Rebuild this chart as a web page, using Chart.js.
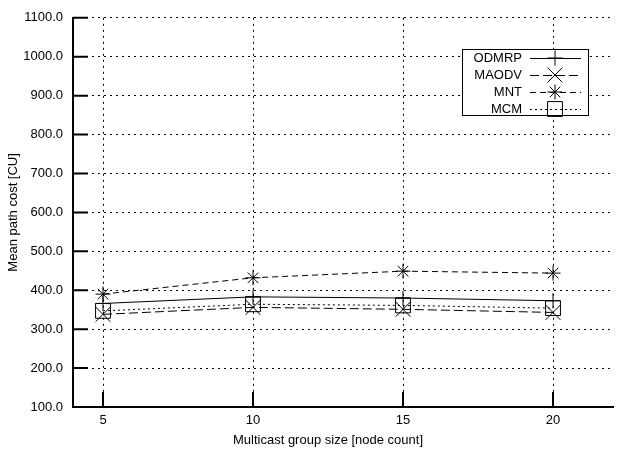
<!DOCTYPE html>
<html>
<head>
<meta charset="utf-8">
<script src="https://cdn.jsdelivr.net/npm/chart.js@4"></script>
<style>
  html, body { margin: 0; padding: 0; background: #fff; }
  #wrap { width: 618px; height: 455px; }
</style>
</head>
<body>
<div id="wrap"><canvas id="costChart" width="618" height="455"></canvas></div>
<script>
// group sizes on the x axis
const groupSizes = [5, 10, 15, 20];
// mean path cost per protocol
const odmrp = [366, 383, 380, 373];
const maodv = [338, 356, 351, 343];
const mnt = [390, 432, 449, 444];
const mcm = [347, 364, 361, 354];
const yTicks = [100, 200, 300, 400, 500, 600, 700, 800, 900, 1000, 1100];

const FONT = 'Liberation Sans, Arial, Helvetica, sans-serif';
const X_TITLE = 'Multicast group size [node count]';

function toPoints(values) {
    return groupSizes.map((g, i) => ({ x: g, y: values[i] }));
}

const series = [
    { label: 'ODMRP', data: odmrp, style: 'cross', radius: 7.5, dash: [] },
    { label: 'MAODV', data: maodv, style: 'crossRot', radius: 10.5, dash: [9, 4] },
    { label: 'MNT', data: mnt, style: 'star', radius: 7.5, dash: [6, 4] },
    { label: 'MCM', data: mcm, style: 'rect', radius: 10.5, dash: [2, 3] }
];

// ticks drawn inward from the axes, gnuplot style
const innerTicks = {
    id: 'innerTicks',
    afterDatasetsDraw(chart) {
        const { ctx, chartArea, scales } = chart;
        ctx.save();
        ctx.strokeStyle = '#000';
        ctx.lineWidth = 2;
        ctx.setLineDash([]);
        ctx.beginPath();
        yTicks.forEach(v => {
            const y = scales.y.getPixelForValue(v);
            ctx.moveTo(chartArea.left, y);
            ctx.lineTo(chartArea.left + 15, y);
        });
        groupSizes.forEach(v => {
            const x = scales.x.getPixelForValue(v);
            ctx.moveTo(x, chartArea.bottom);
            ctx.lineTo(x, chartArea.bottom - 15);
        });
        ctx.stroke();
        // x axis title, centred like the original (between 4 and 21)
        ctx.fillStyle = '#000';
        ctx.font = '13px ' + FONT;
        ctx.textAlign = 'center';
        ctx.textBaseline = 'middle';
        const cx = (scales.x.getPixelForValue(4) + scales.x.getPixelForValue(21)) / 2;
        ctx.fillText(X_TITLE, cx, 440);
        ctx.restore();
    }
};

// boxed legend with text on the left and line sample on the right
const boxLegend = {
    id: 'boxLegend',
    afterDraw(chart) {
        const { ctx } = chart;
        const left = 462, top = 49, right = 588, bottom = 115;
        ctx.save();
        ctx.fillStyle = '#fff';
        ctx.fillRect(left, top, right - left, bottom - top);
        ctx.strokeStyle = '#000';
        ctx.lineWidth = 1;
        ctx.setLineDash([]);
        ctx.strokeRect(left + 0.5, top + 0.5, right - left, bottom - top);
        ctx.font = '13px ' + FONT;
        ctx.textAlign = 'right';
        ctx.textBaseline = 'middle';
        series.forEach((s, i) => {
            const y = 58 + i * 17;
            ctx.fillStyle = '#000';
            ctx.fillText(s.label, 522, y);
            ctx.beginPath();
            ctx.setLineDash(s.dash);
            ctx.moveTo(530, y + 0.5);
            ctx.lineTo(581, y + 0.5);
            ctx.stroke();
            ctx.setLineDash([]);
            ctx.fillStyle = 'rgba(0,0,0,0)';
            Chart.helpers.drawPoint(ctx, {
                pointStyle: s.style, radius: s.radius, rotation: 0, borderWidth: 1
            }, 555, y);
        });
        ctx.restore();
    }
};

new Chart(document.getElementById('costChart'), {
    type: 'line',
    data: {
        datasets: series.map(s => ({
            label: s.label,
            data: toPoints(s.data),
            borderColor: '#000',
            borderWidth: 1,
            borderDash: s.dash,
            pointStyle: s.style,
            pointRadius: s.radius,
            pointHoverRadius: s.radius,
            pointBorderColor: '#000',
            pointBackgroundColor: 'rgba(0,0,0,0)',
            pointBorderWidth: 1,
            tension: 0,
            fill: false
        }))
    },
    options: {
        responsive: false,
        animation: false,
        devicePixelRatio: 1,
        layout: { autoPadding: false, padding: { top: 15, right: 5, left: 0, bottom: 0 } },
        plugins: {
            legend: { display: false },
            tooltip: { enabled: false }
        },
        scales: {
            x: {
                type: 'linear',
                min: 4,
                max: 22,
                afterBuildTicks: scale => { scale.ticks = groupSizes.map(v => ({ value: v })); },
                afterFit: scale => {
                    scale.height = 48;
                    scale.paddingLeft = 0;
                    scale.paddingRight = 0;
                },
                ticks: {
                    color: '#000',
                    font: { family: FONT, size: 13 },
                    padding: 6,
                    callback: v => String(v)
                },
                grid: { color: '#000', lineWidth: 1, drawTicks: false },
                border: { color: '#000', width: 2, dash: [2, 4] },
                title: { display: false }
            },
            y: {
                min: 100,
                max: 1100,
                afterBuildTicks: scale => { scale.ticks = yTicks.map(v => ({ value: v })); },
                afterFit: scale => { scale.width = 73; },
                ticks: {
                    color: '#000',
                    font: { family: FONT, size: 13 },
                    padding: 10,
                    callback: v => Number(v).toFixed(1)
                },
                grid: { color: '#000', lineWidth: 1, drawTicks: false },
                border: { color: '#000', width: 2, dash: [2, 4] },
                title: {
                    display: true,
                    text: 'Mean path cost [CU]',
                    color: '#000',
                    font: { family: FONT, size: 13 },
                    padding: { top: 6, bottom: 4 }
                }
            }
        }
    },
    plugins: [innerTicks, boxLegend]
});
</script>
</body>
</html>
